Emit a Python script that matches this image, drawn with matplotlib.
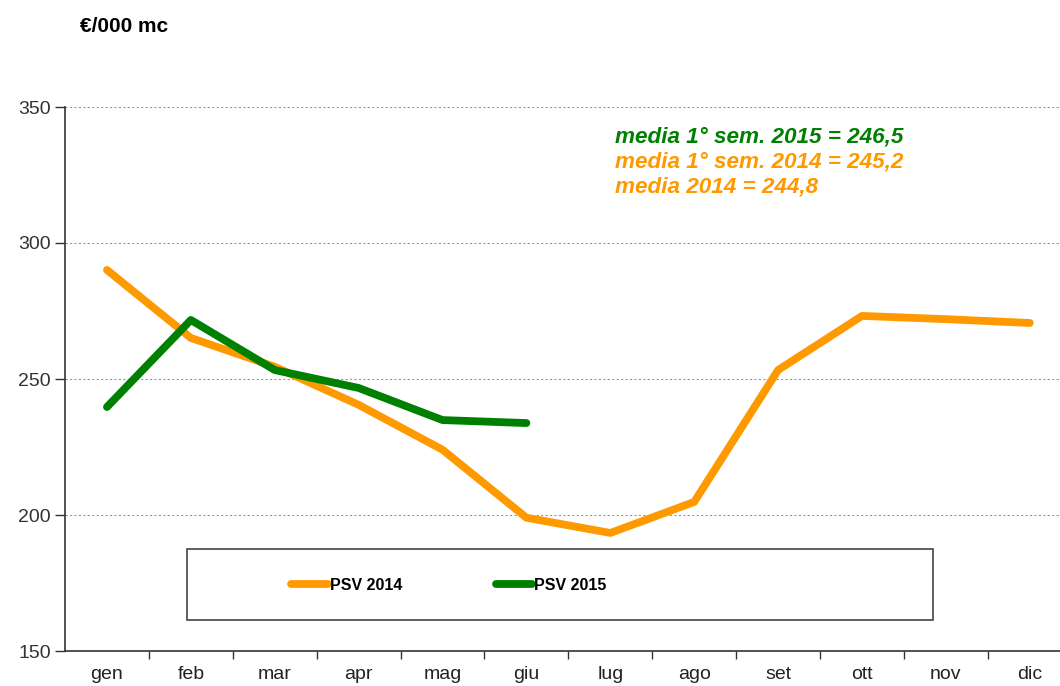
import matplotlib
matplotlib.use("Agg")
import matplotlib.pyplot as plt
from matplotlib.patches import Rectangle
from matplotlib.lines import Line2D

months = ["gen", "feb", "mar", "apr", "mag", "giu", "lug", "ago", "set", "ott", "nov", "dic"]
psv_2014 = [290.1, 265.1, 254.5, 240.5, 224.0, 199.0, 193.4, 204.8, 253.3, 273.2, 272.0, 270.6]
psv_2015 = [239.7, 271.7, 253.3, 246.7, 234.9, 233.8]
notes = ["media 1° sem. 2015 = 246,5", "media 1° sem. 2014 = 245,2", "media 2014 = 244,8"]
note_colors = ["#008000", "#FF9900", "#FF9900"]

ORANGE = "#FF9900"
GREEN = "#008000"

plt.rcParams['font.family'] = ['Liberation Sans', 'DejaVu Sans']

fig = plt.figure(figsize=(10.6, 6.86), dpi=100)
ax = fig.add_axes([65/1060, 1-651/686, 995/1060, 544/686])

x14 = list(range(len(psv_2014)))
x15 = list(range(len(psv_2015)))
ax.plot(x14, psv_2014, color=ORANGE, lw=5.6, solid_capstyle='round', solid_joinstyle='round', zorder=3)
ax.plot(x15, psv_2015, color=GREEN, lw=5.6, solid_capstyle='round', solid_joinstyle='round', zorder=4)

ax.set_ylim(150, 350)
ax.set_xlim(-0.5, 11.36)
ax.set_yticks([150, 200, 250, 300, 350])
ax.set_yticklabels(["150", "200", "250", "300", "350"], fontsize=14, color="#333333")
ax.set_xticks(range(12))
ax.set_xticklabels(months, fontsize=14, color="#222222")
ax.set_xticks([k + 0.5 for k in range(11)], minor=True)
ax.tick_params(axis='x', which='major', length=0, pad=11)
ax.tick_params(axis='x', which='minor', length=6, width=1, color="#333333", direction='out')
ax.tick_params(axis='y', length=7, width=1, color="#333333", direction='out', pad=3)

for v in [200, 250, 300, 350]:
    ax.axhline(v, color="#999999", lw=0.8, ls=(0, (2, 2)), zorder=1)

for s in ["top", "right"]:
    ax.spines[s].set_visible(False)
ax.spines["left"].set_color("#333333")
ax.spines["bottom"].set_color("#333333")
ax.spines["left"].set_linewidth(1.2)
ax.spines["bottom"].set_linewidth(1.2)

# notes
for i, (t, c) in enumerate(zip(notes, note_colors)):
    ax.text((615-65)/995, (651-(137+25*i))/544, t, transform=ax.transAxes, color=c,
            fontsize=16.2, fontweight='bold', fontstyle='italic', va='center', ha='left')

# legend box
ax.add_patch(Rectangle(((187-65)/995, (651-620)/544), (933-187)/995, (620-549)/544,
                       transform=ax.transAxes, fill=True, facecolor='white',
                       edgecolor="#444444", lw=1.2, zorder=5))
handles = [Line2D([], [], color=ORANGE, lw=5.6, solid_capstyle='round'),
           Line2D([], [], color=GREEN, lw=5.6, solid_capstyle='round')]
leg = ax.legend(handles, ["PSV 2014", "PSV 2015"], loc='center left',
                bbox_to_anchor=((277-65)/995, (651-585)/544), ncol=2, frameon=False,
                handlelength=2.3, handletextpad=0.1, columnspacing=5.85,
                prop={'weight': 'bold', 'size': 11.5})
leg.set_zorder(6)

fig.text(80/1060, 1-26/686, "€/000 mc", fontsize=15, fontweight='bold', va='center', ha='left')

fig.savefig("out.png", dpi=100)
